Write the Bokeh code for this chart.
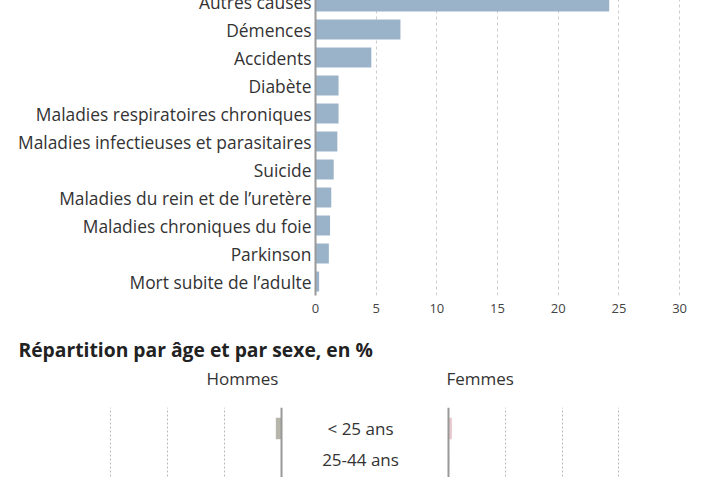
from bokeh.plotting import figure
from bokeh.layouts import column, row
from bokeh.models import Range1d, FactorRange, FixedTicker, Span, Title
from bokeh.core.properties import value
from bokeh.embed import file_html
from bokeh.resources import INLINE

FONT = "Open Sans"
TXT = "#333333"

causes = ["Autres causes", "Démences", "Accidents", "Diabète",
          "Maladies respiratoires chroniques", "Maladies infectieuses et parasitaires",
          "Suicide", "Maladies du rein et de l’uretère", "Maladies chroniques du foie",
          "Parkinson", "Mort subite de l’adulte"]
pct = [24.2, 7.0, 4.6, 1.9, 1.9, 1.8, 1.5, 1.3, 1.2, 1.1, 0.3]
x_ticks = [0, 5, 10, 15, 20, 25, 30]

ages = ["< 25 ans", "25-44 ans"]
hommes = [1.0, 0.1]
femmes = [0.6, 0.1]
pyr_grid = [10, 20, 30]

main_title = "Répartition par âge et par sexe, en %"

# ---------- top bar chart ----------
p1 = figure(frame_width=375, frame_height=308,
            y_range=FactorRange(factors=list(reversed(causes))),
            x_range=Range1d(0, 30.9),
            output_backend="svg", toolbar_location=None,
            min_border_left=307, min_border_right=10, min_border_top=0, min_border_bottom=0)
p1.hbar(y=causes, right=pct, height=0.72, color="#9bb3c9", line_color=None)
p1.outline_line_color = None
p1.ygrid.visible = False
p1.xgrid.ticker = FixedTicker(ticks=x_ticks[1:])
p1.xgrid.grid_line_color = "#cccccc"
p1.xgrid.grid_line_dash = "3 3"
p1.xaxis.ticker = FixedTicker(ticks=x_ticks)
p1.xaxis.axis_line_color = None
p1.xaxis.major_tick_line_color = None
p1.xaxis.minor_tick_line_color = None
p1.xaxis.major_tick_out = 0
p1.xaxis.major_tick_in = 0
p1.xaxis.major_label_standoff = 8
p1.xaxis.major_label_text_font = FONT
p1.xaxis.major_label_text_font_size = "13px"
p1.xaxis.major_label_text_color = "#444444"
p1.yaxis.axis_line_color = "#999999"
p1.yaxis.axis_line_width = 2
p1.yaxis.major_tick_line_color = None
p1.yaxis.minor_tick_line_color = None
p1.yaxis.major_tick_out = 0
p1.yaxis.major_tick_in = 0
p1.yaxis.major_label_standoff = 4
p1.yaxis.major_label_text_font = FONT
p1.yaxis.major_label_text_font_size = "17.4px"
p1.yaxis.major_label_text_color = TXT
p1.add_layout(Title(text=main_title, align="left", offset=-297, standoff=37,
                    text_font=FONT, text_font_size="19.3px", text_font_style="bold",
                    text_color="#222222"), "below")

# ---------- pyramid ----------
def pyr_fig(width, xr, title, offset=0):
    p = figure(frame_width=width, frame_height=73,
               y_range=FactorRange(factors=list(reversed(ages)), range_padding=0.177),
               x_range=xr, output_backend="svg", toolbar_location=None,
               min_border_left=0, min_border_right=0, min_border_top=0, min_border_bottom=0,
               y_axis_location=None, background_fill_color=None, border_fill_color=None)
    p.outline_line_color = None
    p.ygrid.visible = False
    p.xaxis.visible = False
    p.title.text = title
    p.title.align = "left"
    p.title.offset = offset
    p.title.standoff = 35
    p.title.text_font = FONT
    p.title.text_font_size = "17px"
    p.title.text_font_style = "normal"
    p.title.text_color = TXT
    return p

pl = pyr_fig(283, Range1d(47.9, -1.75), "Hommes", 198)
pl.xgrid.ticker = FixedTicker(ticks=pyr_grid)
pl.xgrid.grid_line_color = "#bbbbbb"
pl.xgrid.grid_line_dash = "2 2"
pl.hbar(y=ages, left=0, right=hommes, height=0.7, color="#b7b6ab", line_color=None)
pl.add_layout(Span(location=0, dimension="height", line_color="#999999", line_width=2))

pm = pyr_fig(138, Range1d(-1, 1), " ")
pm.xgrid.visible = False
pm.text(x=0, y=ages, text=ages, text_align="center", text_baseline="middle",
        text_font=value(FONT), text_font_size="17px", text_color=TXT)

pr = pyr_fig(271, Range1d(-3.345, 44.37), "Femmes", 17)
pr.xgrid.ticker = FixedTicker(ticks=pyr_grid)
pr.xgrid.grid_line_color = "#bbbbbb"
pr.xgrid.grid_line_dash = "2 2"
pr.hbar(y=ages, left=0, right=femmes, height=0.7, color="#e9c9cd", line_color=None)
pr.add_layout(Span(location=0, dimension="height", line_color="#999999", line_width=2))

pyramid = row(pl, pm, pr, spacing=0, margin=(-34, 0, 0, 0))
layout = column(p1, pyramid, spacing=0, margin=(-13, 0, -10, 8))

open("out.html", "w").write(file_html(layout, INLINE))
